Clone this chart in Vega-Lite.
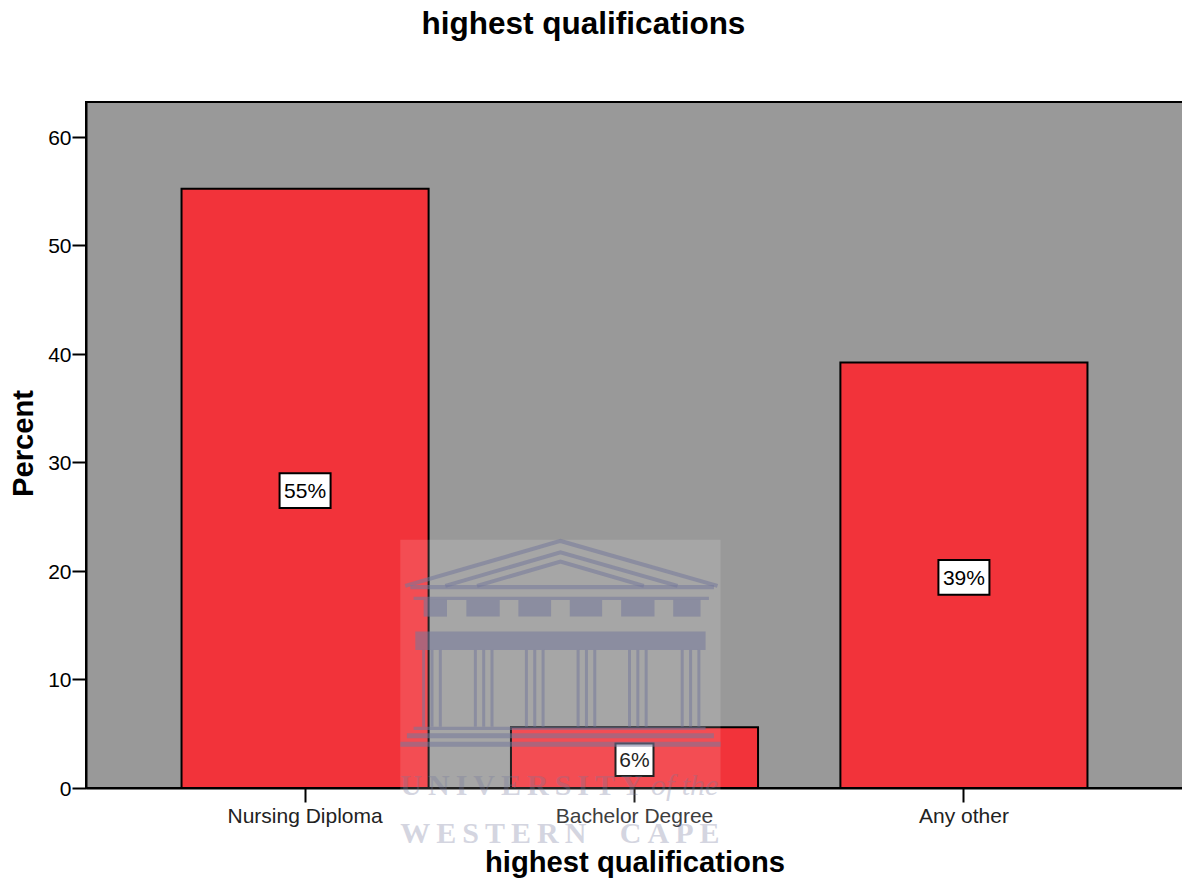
{
"$schema":"https://vega.github.io/schema/vega-lite/v6.json",
"autosize":{"type":"none"},
"padding":{"left":86,"top":102,"right":0,"bottom":90},
"width":1097,"height":686,
"background":"white",
"config":{"view":{"fill":"#999999","stroke":"#000000","strokeWidth":2},"font":"Liberation Sans"},
"title":{"text":"highest qualifications","font":"Liberation Sans","fontSize":31.5,"fontWeight":"bold","color":"#000000","anchor":"middle","dx":-51,"offset":37,"baseline":"alphabetic"},
"datasets":{
"bars":[
{"category":"Nursing Diploma","percent":55.2,"label":"55%","label_mid":27.3,"label_lo":25.8,"label_hi":29},
{"category":"Bachelor Degree","percent":5.6,"label":"6%","label_mid":2.5,"label_lo":1.1,"label_hi":4.1},
{"category":"Any other","percent":39.2,"label":"39%","label_mid":19.3,"label_lo":17.8,"label_hi":21}
],
"panel":[{"a":0.8595,"b":1.7354,"lo":-5.07,"hi":22.86}],
"blocks":[
{"a":0.8870,"b":1.7172,"lo":18.31,"hi":18.71},
{"a":0.8960,"b":1.7035,"lo":17.33,"hi":17.63},
{"a":0.9234,"b":0.9872,"lo":15.79,"hi":17.33},
{"a":1.0402,"b":1.1314,"lo":15.79,"hi":17.33},
{"a":1.1825,"b":1.2719,"lo":15.79,"hi":17.33},
{"a":1.3230,"b":1.4115,"lo":15.79,"hi":17.33},
{"a":1.4635,"b":1.5548,"lo":15.79,"hi":17.33},
{"a":1.6059,"b":1.6806,"lo":15.79,"hi":17.33},
{"a":0.9006,"b":1.6944,"lo":12.72,"hi":14.41},
{"a":0.8960,"b":1.6944,"lo":5.35,"hi":5.65},
{"a":0.8777,"b":1.7172,"lo":4.58,"hi":5.04},
{"a":0.8595,"b":1.7354,"lo":3.81,"hi":4.27}
],
"stripes":[
{"x":0.9234,"lo":5.65,"hi":12.72},{"x":0.9462,"lo":5.65,"hi":12.72},{"x":0.9690,"lo":5.65,"hi":12.72},
{"x":1.0648,"lo":5.65,"hi":12.72},{"x":1.0876,"lo":5.65,"hi":12.72},{"x":1.1104,"lo":5.65,"hi":12.72},
{"x":1.2044,"lo":5.65,"hi":12.72},{"x":1.2272,"lo":5.65,"hi":12.72},{"x":1.2500,"lo":5.65,"hi":12.72},
{"x":1.3458,"lo":5.65,"hi":12.72},{"x":1.3686,"lo":5.65,"hi":12.72},{"x":1.3914,"lo":5.65,"hi":12.72},
{"x":1.4863,"lo":5.65,"hi":12.72},{"x":1.5091,"lo":5.65,"hi":12.72},{"x":1.5319,"lo":5.65,"hi":12.72},
{"x":1.6305,"lo":5.65,"hi":12.72},{"x":1.6533,"lo":5.65,"hi":12.72},{"x":1.6761,"lo":5.65,"hi":12.72}
],
"roof":[
{"tri":"outer","x":0.873,"y":18.62},{"tri":"outer","x":1.2975,"y":22.76},{"tri":"outer","x":1.727,"y":18.62},
{"tri":"mid","x":0.9827,"y":18.62},{"tri":"mid","x":1.2975,"y":21.72},{"tri":"mid","x":1.6177,"y":18.62},
{"tri":"inner","x":1.0693,"y":18.62},{"tri":"inner","x":1.2975,"y":20.86},{"tri":"inner","x":1.5255,"y":18.62}
]
},
"layer":[
{"data":{"name":"bars"},
 "encoding":{"x":{"field":"category","type":"nominal","sort":["Nursing Diploma","Bachelor Degree","Any other"],
   "scale":{"paddingInner":0.25,"paddingOuter":0.29},
   "axis":{"title":"highest qualifications","titleFont":"Liberation Sans","titleFontSize":29.2,"titleFontWeight":"bold","titleColor":"#000000","titleBaseline":"alphabetic","titleY":83,"labelAngle":0,"labelFont":"Liberation Sans","labelFontSize":21,"labelColor":"#222222","labelPadding":3,"tickSize":14,"tickWidth":2,"tickColor":"#000000","domainColor":"#000000","domainWidth":2}}},
 "layer":[
  {"mark":{"type":"bar","fill":"#f2333a","stroke":"#000000","strokeWidth":2},
   "encoding":{"y":{"field":"percent","type":"quantitative","scale":{"domain":[0,63.2],"nice":false,"zero":true},
     "axis":{"title":"Percent","titleFont":"Liberation Sans","titleFontSize":29.2,"titleFontWeight":"bold","titleColor":"#000000","titleX":-48,"titleY":341,"values":[0,10,20,30,40,50,60],"grid":false,"labelFont":"Liberation Sans","labelFontSize":21,"labelColor":"#000000","labelPadding":1,"labelOffset":1.5,"tickSize":14,"tickWidth":2,"tickColor":"#000000","domainColor":"#000000","domainWidth":2}}}},
  {"transform":[{"filter":"datum.percent >= 10"}],
   "mark":{"type":"bar","width":51,"fill":"#ffffff","stroke":"#000000","strokeWidth":2},
   "encoding":{"y":{"field":"label_lo","type":"quantitative"},"y2":{"field":"label_hi"}}},
  {"transform":[{"filter":"datum.percent < 10"}],
   "mark":{"type":"bar","width":38,"fill":"#ffffff","stroke":"#000000","strokeWidth":2},
   "encoding":{"y":{"field":"label_lo","type":"quantitative"},"y2":{"field":"label_hi"}}},
  {"mark":{"type":"text","font":"Liberation Sans","fontSize":21,"color":"#000000","baseline":"middle"},
   "encoding":{"y":{"field":"label_mid","type":"quantitative"},"text":{"field":"label"}}}
 ]},
{"encoding":{},
 "layer":[
  {"data":{"name":"panel"},"mark":{"type":"rect","fill":"#ffffff","opacity":0.13,"clip":false},
   "encoding":{"x":{"field":"a","type":"quantitative","scale":{"domain":[0,3],"nice":false,"zero":false},"axis":null},"x2":{"field":"b"},"y":{"field":"lo","type":"quantitative","axis":null},"y2":{"field":"hi"}}},
  {"data":{"name":"blocks"},"mark":{"type":"rect","fill":"#74789a","opacity":0.55},
   "encoding":{"x":{"field":"a","type":"quantitative","axis":null},"x2":{"field":"b"},"y":{"field":"lo","type":"quantitative","axis":null},"y2":{"field":"hi"}}},
  {"data":{"name":"stripes"},"mark":{"type":"rule","stroke":"#74789a","opacity":0.55,"strokeWidth":3},
   "encoding":{"x":{"field":"x","type":"quantitative","axis":null},"y":{"field":"lo","type":"quantitative","axis":null},"y2":{"field":"hi"}}},
  {"data":{"name":"roof"},"mark":{"type":"line","stroke":"#74789a","opacity":0.55,"strokeWidth":4},
   "encoding":{"x":{"field":"x","type":"quantitative","axis":null},"y":{"field":"y","type":"quantitative","axis":null},"detail":{"field":"tri"},"order":{"field":"x"}}},
  {"data":{"values":[{"x":0.8595,"y":-0.65,"t":"U\u2009N\u2009I\u2009V\u2009E\u2009R\u2009S\u2009I\u2009T\u2009Y"}]},"mark":{"type":"text","font":"Liberation Serif","fontWeight":"bold","fontSize":30,"align":"left","baseline":"alphabetic","color":"#74789a","opacity":0.3},
   "encoding":{"x":{"field":"x","type":"quantitative","axis":null},"y":{"field":"y","type":"quantitative","axis":null},"text":{"field":"t"}}},
  {"data":{"values":[{"x":1.545,"y":-0.65,"t":"of the"}]},"mark":{"type":"text","font":"Liberation Serif","fontStyle":"italic","fontSize":30,"align":"left","baseline":"alphabetic","color":"#74789a","opacity":0.3},
   "encoding":{"x":{"field":"x","type":"quantitative","axis":null},"y":{"field":"y","type":"quantitative","axis":null},"text":{"field":"t"}}},
  {"data":{"values":[{"x":0.8595,"y":-5.04,"t":"W\u2009E\u2009S\u2009T\u2009E\u2009R\u2009N"},{"x":1.46,"y":-5.04,"t":"C\u2009A\u2009P\u2009E"}]},"mark":{"type":"text","font":"Liberation Serif","fontWeight":"bold","fontSize":30,"align":"left","baseline":"alphabetic","color":"#74789a","opacity":0.3},
   "encoding":{"x":{"field":"x","type":"quantitative","axis":null},"y":{"field":"y","type":"quantitative","axis":null},"text":{"field":"t"}}}
 ]}
],
"resolve":{"scale":{"x":"independent"},"axis":{"y":"independent"}}
}
